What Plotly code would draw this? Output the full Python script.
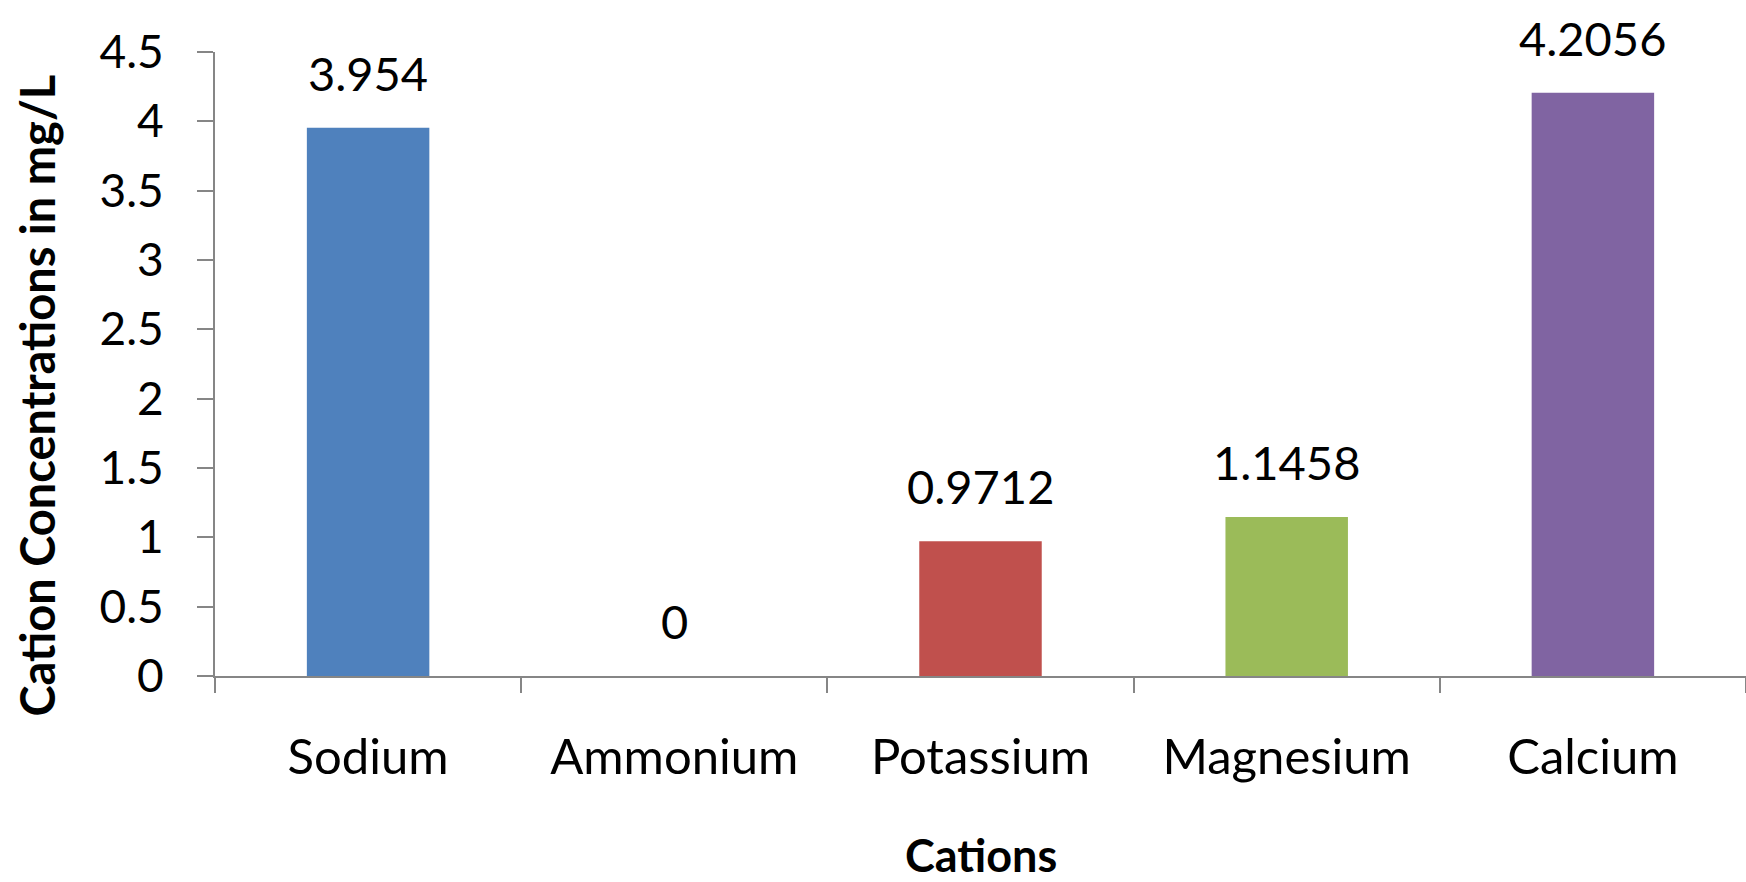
import plotly.graph_objects as go

categories = ["Sodium", "Ammonium", "Potassium", "Magnesium", "Calcium"]
values = [3.954, 0, 0.9712, 1.1458, 4.2056]
value_labels = ["3.954", "0", "0.9712", "1.1458", "4.2056"]
bar_colors = ["#4F81BD", "#4F81BD", "#C0504D", "#9BBB59", "#8064A2"]
y_tick_vals = [0, 0.5, 1, 1.5, 2, 2.5, 3, 3.5, 4, 4.5]
y_tick_text = ["0", "0.5", "1", "1.5", "2", "2.5", "3", "3.5", "4", "4.5"]

FONT = "Lato"
AXIS_COLOR = "#868686"
TEXT_COLOR = "#000000"

fig = go.Figure()
fig.add_trace(go.Bar(
    x=categories,
    y=values,
    marker=dict(color=bar_colors, line=dict(width=0)),
    showlegend=False,
    hoverinfo="x+y",
))

for cat, val, lab in zip(categories, values, value_labels):
    fig.add_annotation(
        x=cat, y=val, xref="x", yref="y",
        text=lab, showarrow=False,
        yanchor="bottom", xanchor="center",
        yshift=25,
        font=dict(family=FONT, size=47, color=TEXT_COLOR),
    )

# y-axis title
fig.add_annotation(
    xref="paper", yref="paper",
    x=-0.116, y=0.45,
    text="<b>Cation Concentrations in mg/L</b>",
    textangle=-90, showarrow=False,
    xanchor="center", yanchor="middle",
    font=dict(family=FONT, size=47, color=TEXT_COLOR),
)

# x-axis title
fig.add_annotation(
    xref="paper", yref="paper",
    x=0.5, y=-0.287,
    text="<b>Cations</b>",
    showarrow=False,
    xanchor="center", yanchor="middle",
    font=dict(family=FONT, size=45, color=TEXT_COLOR),
)

fig.update_layout(
    width=1746, height=882,
    margin=dict(l=215, r=0, t=52, b=206),
    paper_bgcolor="white", plot_bgcolor="white",
    bargap=0.6,
    font=dict(family=FONT, size=47, color=TEXT_COLOR),
)

fig.update_xaxes(
    type="category", automargin=False,
    showline=True, linecolor=AXIS_COLOR, linewidth=2,
    ticks="outside", tickson="boundaries", ticklen=15, tickwidth=2, tickcolor=AXIS_COLOR,
    showgrid=False, zeroline=False,
    tickfont=dict(family=FONT, size=49, color=TEXT_COLOR),
    ticklabelstandoff=37,
)

fig.update_yaxes(
    range=[0, 4.5], automargin=False,
    tickmode="array", tickvals=y_tick_vals, ticktext=y_tick_text,
    showline=True, linecolor=AXIS_COLOR, linewidth=2,
    ticks="outside", ticklen=16, tickwidth=2, tickcolor=AXIS_COLOR,
    showgrid=False, zeroline=False,
    tickfont=dict(family=FONT, size=46, color=TEXT_COLOR),
    ticklabelstandoff=24,
)

# remove the browser's default 8px body margin so the figure fills the window exactly
fig.write_html(
    "out.html",
    config={"displayModeBar": False},
    post_script="document.body.style.margin='0';",
)
